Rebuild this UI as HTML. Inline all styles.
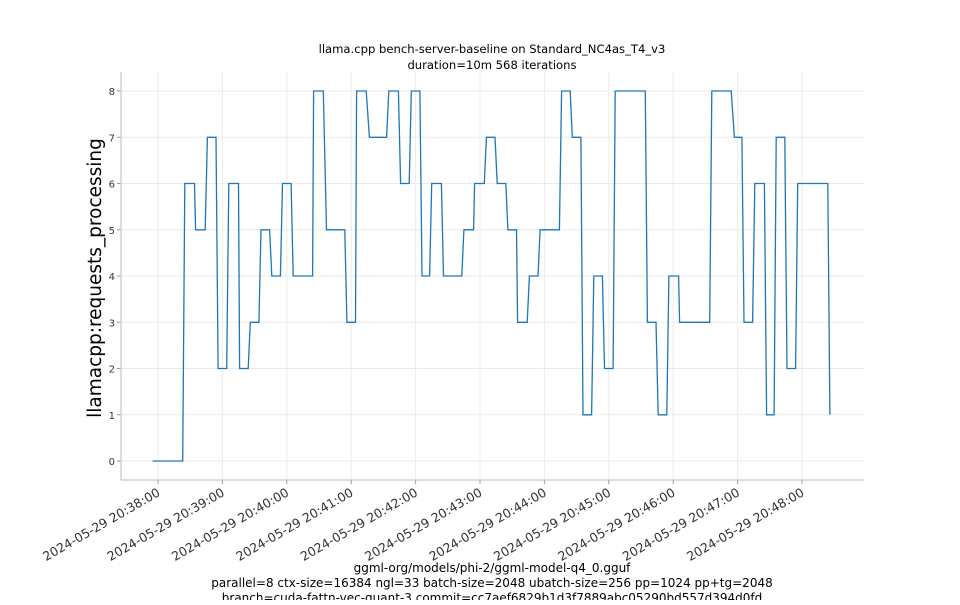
<!DOCTYPE html>
<html><head><meta charset="utf-8"><style>
body{margin:0;background:#fff;}
svg text{font-family:"DejaVu Sans","Liberation Sans",sans-serif;}
</style></head><body>
<svg id="chart" width="960" height="600" xmlns="http://www.w3.org/2000/svg">
<text x="492" y="53" text-anchor="middle" font-size="11.6">llama.cpp bench-server-baseline on Standard_NC4as_T4_v3</text>
<text x="492" y="69" text-anchor="middle" font-size="11.6">duration=10m 568 iterations</text>
<text transform="translate(101,278) rotate(-90)" text-anchor="middle" font-size="18.5">llamacpp:requests_processing</text>
<g id="grid"></g>
<g id="axes"></g>
<path id="line" fill="none" stroke="#1f77b4" stroke-width="1.3"/>
<text x="492" y="572" text-anchor="middle" font-size="12">ggml-org/models/phi-2/ggml-model-q4_0.gguf</text>
<text x="492" y="587" text-anchor="middle" font-size="12">parallel=8 ctx-size=16384 ngl=33 batch-size=2048 ubatch-size=256 pp=1024 pp+tg=2048</text>
<text x="492" y="602" text-anchor="middle" font-size="12">branch=cuda-fattn-vec-quant-3 commit=cc7aef6829b1d3f7889abc05290bd557d394d0fd</text>
</svg>
<script>
// seconds since 2024-05-29 20:38:00
const times = [-5,23,25,34,35,44,46,54,56,64,66,75,76,84,86,94,96,104,106,114,116,124,126,144,145,154,157,174,176,184,185,194,197,213,215,224,226,234,236,244,246,253,255,264,266,283,285,294,295,304,306,314,316,324,326,334,335,344,346,354,356,374,376,384,386,394,396,404,406,414,416,424,426,454,456,464,466,474,476,485,486,514,516,534,537,544,546,554,556,565,567,574,576,584,586,594,596,624,626];
const values = [0,0,6,6,5,5,7,7,2,2,6,6,2,2,3,3,5,5,4,4,6,6,4,4,8,8,5,5,3,3,8,8,7,7,8,8,6,6,8,8,4,4,6,6,4,4,5,5,6,6,7,7,6,6,5,5,3,3,4,4,5,5,8,8,7,7,1,1,4,4,2,2,8,8,3,3,1,1,4,4,3,3,8,8,7,7,3,3,6,6,1,1,7,7,2,2,6,6,1];
const yTicks = [0,1,2,3,4,5,6,7,8];
const xTickLabels = ["2024-05-29 20:38:00","2024-05-29 20:39:00","2024-05-29 20:40:00","2024-05-29 20:41:00","2024-05-29 20:42:00","2024-05-29 20:43:00","2024-05-29 20:44:00","2024-05-29 20:45:00","2024-05-29 20:46:00","2024-05-29 20:47:00","2024-05-29 20:48:00"];
const xTickTimes = [0,60,120,180,240,300,360,420,480,540,600];

const L=121,R=864,T=72,B=480;
const xs = t => 158 + t*64.4/60;
const ys = v => 461 - v*46.25;
const NS="http://www.w3.org/2000/svg";
const grid=document.getElementById('grid'), axes=document.getElementById('axes');
function mk(tag,attrs,parent){const e=document.createElementNS(NS,tag);for(const k in attrs)e.setAttribute(k,attrs[k]);parent.appendChild(e);return e;}
yTicks.forEach(v=>{
  const g=mk('line',{x1:L,x2:R,y1:ys(v),y2:ys(v),stroke:'#ebebeb','stroke-width':1},grid);
  
  
  const tk=mk('line',{x1:L-4,x2:L,y1:ys(v),y2:ys(v),stroke:'#999'},axes);
  
  
  const t=mk('text',{x:L-6,y:ys(v)+4,'text-anchor':'end','font-size':10,fill:'#333'},axes);
  t.textContent=v;
  
  
});
xTickTimes.forEach((tm,i)=>{
  const x=xs(tm);
  const g=mk('line',{x1:x,x2:x,y1:T,y2:B,stroke:'#ebebeb'},grid);
  
  
  const tk=mk('line',{x1:x,x2:x,y1:B,y2:B+4,stroke:'#999'},axes);
  
  
  const t=mk('text',{transform:`translate(${x+3},${B+15}) rotate(-30)`,'text-anchor':'end','font-size':12.5,fill:'#333'},axes);
  t.textContent=xTickLabels[i];
  
  
});
const sp1=mk('line',{x1:L,x2:L,y1:T,y2:B,stroke:'#bbb'},axes);


const sp2=mk('line',{x1:L,x2:R,y1:B,y2:B,stroke:'#bbb'},axes);


document.getElementById('line').setAttribute('d',times.map((t,i)=>(i?'L':'M')+xs(t).toFixed(1)+','+ys(values[i]).toFixed(1)).join(''));
</script>
</body></html>
